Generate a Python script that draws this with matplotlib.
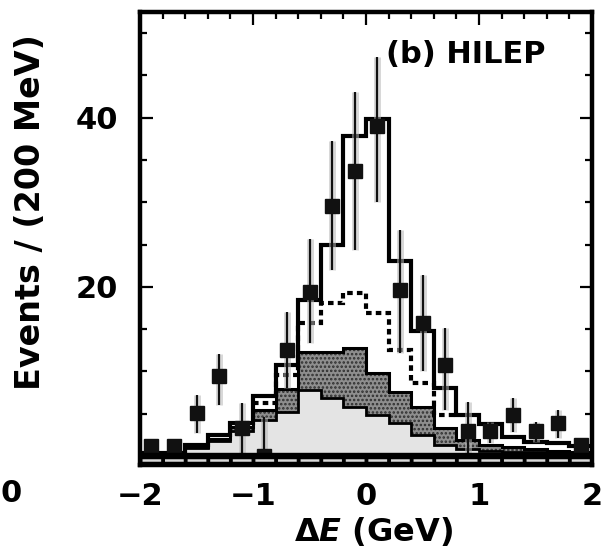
import numpy as np
import matplotlib
matplotlib.use("Agg")
import matplotlib.pyplot as plt
from matplotlib.ticker import MultipleLocator, FixedLocator

# ---------------- data ----------------
bin_centers = [-1.9, -1.7, -1.5, -1.3, -1.1, -0.9, -0.7, -0.5, -0.3, -0.1,
               0.1, 0.3, 0.5, 0.7, 0.9, 1.1, 1.3, 1.5, 1.7, 1.9]
bin_width = 0.2

data_counts = [1.2, 1.2, 5.1, 9.4, 3.3, 0.0, 12.5, 19.4, 29.6, 33.7,
               39.0, 19.6, 15.7, 10.7, 2.9, 3.0, 4.9, 2.9, 3.9, 1.3]
err_low = [0.8, 0.8, 2.4, 3.4, 2.9, 0.0, 4.5, 6.0, 7.6, 9.3,
           9.0, 7.4, 5.7, 5.3, 2.5, 1.5, 2.1, 1.2, 1.8, 0.8]
err_high = [0.8, 0.8, 2.1, 2.6, 3.0, 4.6, 4.5, 6.2, 7.6, 9.3,
            8.2, 7.1, 5.7, 4.4, 3.5, 1.0, 2.0, 1.1, 1.5, 0.8]

total_fit = [0.4, 0.4, 1.3, 2.5, 3.9, 7.1, 10.8, 18.5, 25.0, 37.8,
             39.8, 23.0, 14.8, 8.0, 4.8, 3.8, 2.3, 1.7, 1.5, 1.2]

# dashed component, bins from -0.9 to 0.7
dashed_centers = [-0.9, -0.7, -0.5, -0.3, -0.1, 0.1, 0.3, 0.5, 0.7]
dashed_comp = [6.3, 9.6, 15.7, 18.1, 19.3, 16.9, 12.5, 8.6, 4.9]

band_high = [0.4, 0.4, 1.0, 2.0, 3.4, 5.4, 7.9, 12.3, 12.3, 12.8,
             9.8, 7.6, 5.8, 3.3, 1.9, 1.3, 1.0, 0.8, 0.6, 0.5]
band_low = [0.4, 0.4, 0.9, 1.8, 3.0, 4.3, 5.2, 7.8, 6.8, 5.8,
            4.8, 3.9, 2.5, 1.3, 0.8, 0.6, 0.5, 0.45, 0.4, 0.4]

x_ticks = [-2, -1, 0, 1, 2]
x_tick_labels = ["\u22122", "\u22121", "0", "1", "2"]
y_ticks = [20, 40]
y_tick_labels = ["20", "40"]

# ---------------- style ----------------
plt.rcParams["font.family"] = ["DejaVu Sans"]
plt.rcParams["font.weight"] = "bold"
plt.rcParams["mathtext.fontset"] = "custom"
plt.rcParams["mathtext.rm"] = "DejaVu Sans:bold"
plt.rcParams["mathtext.bf"] = "DejaVu Sans:bold"
plt.rcParams["mathtext.it"] = "DejaVu Sans:bold:italic"
plt.rcParams["lines.scale_dashes"] = False
plt.rcParams["hatch.linewidth"] = 1.2

fig = plt.figure(figsize=(6.15, 5.53), dpi=100)
W, H = 615, 553
ax = fig.add_axes([140 / W, 1 - 465 / H, 452 / W, 453 / H])

centers = np.array(bin_centers)
edges = np.append(centers - bin_width / 2, centers[-1] + bin_width / 2)
dc = np.array(dashed_centers)
dedges = np.append(dc - bin_width / 2, dc[-1] + bin_width / 2)

# light-gray lowest component
ax.stairs(band_low, edges, baseline=0.3, fill=True, facecolor="#e4e4e4",
          edgecolor="none", lw=0, zorder=1)
# dark stippled band
ax.stairs(band_high, edges, baseline=np.array(band_low), fill=True,
          facecolor="#8e8e8e", edgecolor="#2e2e2e", hatch="....", lw=0, zorder=2)
ax.stairs(band_low, edges, baseline=None, color="k", lw=2.0, zorder=3)
ax.stairs(band_high, edges, baseline=None, color="k", lw=2.2, zorder=3)

# dashed component
ax.stairs(dashed_comp, dedges, baseline=None, color="k", lw=3.0,
          linestyle=(0, (4.0, 3.0)), zorder=4)

# total fit
ax.stairs(total_fit, edges, baseline=None, color="k", lw=3.0, zorder=4)

# bottom black band with light dashed stripe
ax.axhspan(-1.2, 0.35, color="k", zorder=5)
ax.axhline(-0.42, color="#d8d8d8", lw=1.8, zorder=5.5,
           linestyle=(14.9, (13.5, 2.77)))

# data with error bars (scan halo first)
ax.errorbar(bin_centers, data_counts, yerr=[err_low, err_high], fmt="none",
            ecolor="#b8b8b8", elinewidth=5, alpha=0.55, zorder=4.6)
ax.errorbar(bin_centers, data_counts, yerr=[err_low, err_high], fmt="s",
            ms=9.5, color="#111111", mec="#111111", elinewidth=1.6,
            capsize=0, zorder=4.8)

# axes
ax.set_xlim(-2, 2)
ax.set_ylim(-1.07, 52.5)
ax.xaxis.set_major_locator(FixedLocator(x_ticks))
ax.set_xticklabels(x_tick_labels)
ax.xaxis.set_minor_locator(MultipleLocator(bin_width))
ax.yaxis.set_major_locator(FixedLocator(y_ticks))
ax.set_yticklabels(y_tick_labels)
ax.yaxis.set_minor_locator(MultipleLocator(5))

ax.tick_params(which="both", direction="in", top=True, right=True,
               width=1.6, color="k")
ax.tick_params(which="major", length=9)
ax.tick_params(which="minor", length=5)
ax.tick_params(axis="x", which="major", labelsize=22, pad=12)
ax.tick_params(axis="y", which="major", labelsize=22, pad=16)
for lab in ax.get_xticklabels() + ax.get_yticklabels():
    lab.set_fontweight("bold")

for sp in ax.spines.values():
    sp.set_linewidth(3.2)
    sp.set_zorder(8)

ax.text(0.721, 0.907, "(b) HILEP", transform=ax.transAxes, fontsize=22,
        fontweight="bold", ha="center", va="center", zorder=9)

fig.text(374 / W, 1 - 531 / H, r"$\Delta E$ (GeV)", fontsize=23,
         fontweight="bold", ha="center", va="center")
fig.text(31 / W, 1 - 212 / H, "Events / (200 MeV)", fontsize=24,
         fontweight="bold", ha="center", va="center", rotation=90)
# neighbouring panel's tick label at the left edge
fig.text(1 / W, 1 - 494 / H, "0", fontsize=22, fontweight="bold",
         ha="left", va="center")

fig.savefig("out.png", dpi=100, facecolor="white")
